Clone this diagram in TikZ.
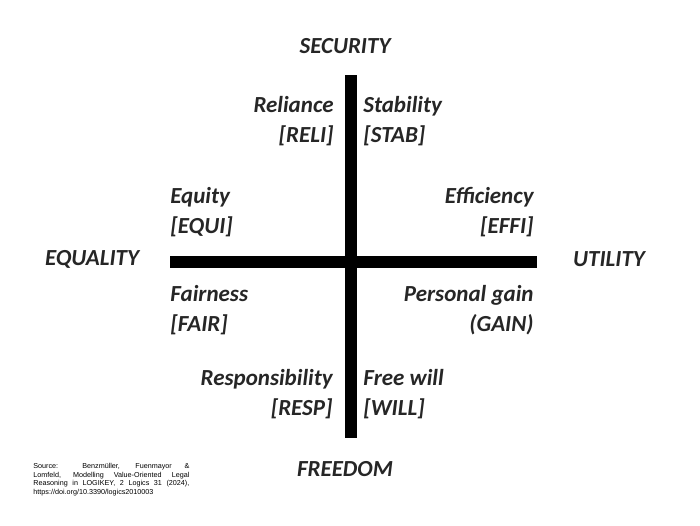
\documentclass[tikz,border=0pt]{standalone}
\usepackage{fontspec}
\setmainfont{Carlito}
\newfontfamily\srcfont{Liberation Sans}
\definecolor{txt}{HTML}{262626}

\begin{document}
\begin{tikzpicture}[x=0.5pt,y=-0.5pt]
    \tikzset{value/.style={font=\fontsize{11.5}{15}\selectfont\bfseries\itshape,text=txt,inner sep=0pt},
      pole/.style={value},
      bar/.style={line width=6pt,black},
      lft/.style={value,align=left,anchor=west},
      rgt/.style={value,align=right,anchor=east}}
    \useasboundingbox (0,0) rectangle (700,525);
    \coordinate (top) at (351,75);
    \coordinate (bot) at (351,438);
    \coordinate (left) at (170,262);
    \coordinate (right) at (537,262);
    \draw[bar] (top) -- (bot);
    \draw[bar] (left) -- (right);
    \node[pole] (sec) at (345,46) {SECURITY};
    \node[pole] (fre) at (345,469) {FREEDOM};
    \node[pole] (equ) at (92,259) {EQUALITY};
    \node[pole] (uti) at (609,259) {UTILITY};
    \node[rgt] (reli) at (334,121) {Reliance\\{}[RELI]};
    \node[lft] (stab) at (363,121) {Stability\\{}[STAB]};
    \node[lft] (equi) at (170,212) {Equity\\{}[EQUI]};
    \node[rgt] (effi) at (534,212) {Efficiency\\{}[EFFI]};
    \node[lft] (fair) at (170,310) {Fairness\\{}[FAIR]};
    \node[rgt] (gain) at (534,310) {Personal gain\\(GAIN)};
    \node[rgt] (resp) at (333,394) {Responsibility\\{}[RESP]};
    \node[lft] (will) at (363,394) {Free will\\{}[WILL]};
    \node[anchor=north west,inner sep=0pt,text width=78pt,align=justify,
      font=\srcfont\fontsize{3.6}{4.3}\selectfont] (src) at (33,463)
      {Source: Benzmüller, Fuenmayor \& Lomfeld, Modelling Value-Oriented Legal Reasoning in LOGIKEY, 2 Logics 31 (2024), https://doi.org/10.3390/logics2010003};
\end{tikzpicture}
\end{document}
